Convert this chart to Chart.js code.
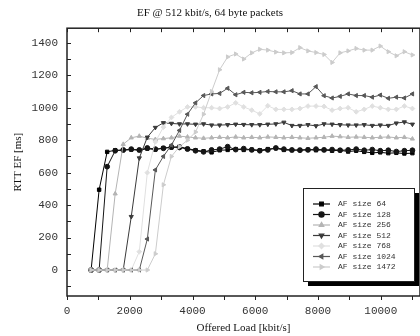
<!DOCTYPE html>
<html>
<head>
<meta charset="utf-8">
<script src="https://cdn.jsdelivr.net/npm/chart.js@4.4.1/dist/chart.umd.min.js"></script>
<style>
  html, body { margin: 0; padding: 0; background: #fff; }
</style>
</head>
<body>
<canvas id="rttChart" width="420" height="336"></canvas>
<script>
// Offered load [kbit/s]
const loads = [768, 1024, 1280, 1536, 1792, 2048, 2304, 2560, 2816, 3072,
  3328, 3584, 3840, 4096, 4352, 4608, 4864, 5120, 5376, 5632,
  5888, 6144, 6400, 6656, 6912, 7168, 7424, 7680, 7936, 8192,
  8448, 8704, 8960, 9216, 9472, 9728, 9984, 10240, 10496, 10752, 11008];

// RTT EF [ms] per AF packet size
const af64 = [0, 495, 728, 738, 738, 742, 738, 748, 742, 752,
  755, 760, 748, 738, 732, 725, 738, 740, 745, 740,
  742, 738, 745, 750, 740, 738, 740, 742, 738, 740,
  735, 738, 730, 735, 728, 722, 725, 720, 722, 718, 720];
const af128 = [0, 0, 637, 735, 740, 745, 740, 752, 745, 750,
  758, 755, 745, 735, 728, 740, 745, 760, 742, 748,
  740, 735, 740, 752, 745, 740, 738, 740, 745, 740,
  742, 738, 740, 745, 738, 742, 735, 738, 730, 735, 738];
const af256 = [0, 0, 0, 470, 775, 815, 825, 812, 805, 810,
  815, 825, 820, 815, 812, 815, 818, 815, 820, 815,
  818, 815, 820, 818, 815, 818, 815, 812, 815, 818,
  825, 822, 818, 820, 818, 815, 818, 820, 815, 818, 808];
const af512 = [0, 0, 0, 0, 0, 329, 690, 818, 878, 907,
  903, 900, 900, 898, 900, 893, 893, 895, 898, 896,
  895, 895, 898, 900, 910, 890, 890, 895, 888, 900,
  898, 895, 893, 893, 895, 890, 893, 890, 905, 912, 898];
const af768 = [0, 0, 0, 0, 0, 0, 113, 600, 790, 880,
  940, 975, 1005, 1005, 1000, 1000, 995, 1005, 1030, 1005,
  985, 962, 1012, 990, 990, 990, 995, 1010, 1010, 1008,
  985, 995, 1000, 975, 990, 1010, 1000, 990, 990, 1010, 995];
const af1024 = [0, 0, 0, 0, 0, 0, 0, 191, 617, 700,
  770, 860, 960, 1030, 1075, 1085, 1088, 1120, 1080, 1095,
  1092, 1095, 1100, 1098, 1098, 1105, 1085, 1085, 1130, 1074,
  1060, 1070, 1085, 1075, 1075, 1065, 1078, 1058, 1065, 1060, 1085];
const af1472 = [0, 0, 0, 0, 0, 0, 0, 0, 100, 525,
  700, 760, 800, 850, 960, 1100, 1234, 1313, 1331, 1300,
  1338, 1360, 1355, 1343, 1338, 1340, 1370, 1350, 1340, 1328,
  1279, 1338, 1350, 1365, 1355, 1355, 1380, 1345, 1320, 1345, 1325];

const xLabelTicks = [0, 2000, 4000, 6000, 8000, 10000];
const yLabelTicks = [0, 200, 400, 600, 800, 1000, 1200, 1400];

function pts(values) {
  return values.map((v, i) => ({ x: loads[i], y: v }));
}

const series = [
  { label: 'AF size 64',   data: af64,   color: '#000000', style: 'rect',     rot: 0 },
  { label: 'AF size 128',  data: af128,  color: '#151515', style: 'circle',   rot: 0 },
  { label: 'AF size 256',  data: af256,  color: '#b4b4b4', style: 'triangle', rot: 0 },
  { label: 'AF size 512',  data: af512,  color: '#3a3a3a', style: 'triangle', rot: 180 },
  { label: 'AF size 768',  data: af768,  color: '#e0e0e0', style: 'rectRot',  rot: 0 },
  { label: 'AF size 1024', data: af1024, color: '#585858', style: 'triangle', rot: 270 },
  { label: 'AF size 1472', data: af1472, color: '#cccccc', style: 'triangle', rot: 90 }
];

// plot runs off the right edge of the picture
const stretchPlugin = {
  id: 'stretch',
  afterLayout(chart) {
    const xs = chart.scales.x;
    chart.chartArea.right = chart.width;
    chart.chartArea.width = chart.width - chart.chartArea.left;
    xs.right = chart.width;
    xs.width = chart.width - xs.left;
    xs.configure();
  }
};

// frame + tick marks
const framePlugin = {
  id: 'frame',
  beforeDatasetsDraw(chart) {
    const ctx = chart.ctx;
    const a = chart.chartArea;
    const xs = chart.scales.x, ys = chart.scales.y;
    ctx.save();
    ctx.strokeStyle = '#222';
    ctx.lineWidth = 1.5;
    ctx.strokeRect(a.left, a.top, a.right - a.left, a.bottom - a.top);
    ctx.lineWidth = 1;
    ctx.beginPath();
    for (let v = 0; v <= 11000; v += 1000) {
      const px = Math.round(xs.getPixelForValue(v)) + 0.5;
      ctx.moveTo(px, a.top); ctx.lineTo(px, a.top + 4);
      ctx.moveTo(px, a.bottom); ctx.lineTo(px, a.bottom + 4);
    }
    for (let v = -100; v <= 1400; v += 100) {
      const py = Math.round(ys.getPixelForValue(v)) + 0.5;
      ctx.moveTo(a.left, py); ctx.lineTo(a.left + 4, py);
    }
    ctx.stroke();
    ctx.restore();
  }
};

// boxed legend with shadow inside the plot
const legendPlugin = {
  id: 'boxLegend',
  afterDraw(chart) {
    const ctx = chart.ctx;
    const bx = 303, by = 188, bw = 111, bh = 93;
    ctx.save();
    ctx.fillStyle = '#000';
    ctx.fillRect(bx + 5, by + 5, bw, bh);
    ctx.fillStyle = '#fff';
    ctx.fillRect(bx, by, bw, bh);
    ctx.strokeStyle = '#222';
    ctx.lineWidth = 1;
    ctx.strokeRect(bx + 0.5, by + 0.5, bw, bh);
    ctx.font = '8px "Liberation Mono"';
    ctx.textBaseline = 'middle';
    series.forEach((s, i) => {
      const y = by + 16 + i * 10.5;
      ctx.strokeStyle = s.color;
      ctx.lineWidth = 1.2;
      ctx.beginPath();
      ctx.moveTo(bx + 10, y); ctx.lineTo(bx + 27, y);
      ctx.stroke();
      ctx.fillStyle = s.color;
      Chart.helpers.drawPoint(ctx, { pointStyle: s.style, rotation: s.rot, radius: 2.6, borderWidth: 1 }, bx + 18.5, y);
      ctx.fillStyle = '#333';
      ctx.fillText(s.label, bx + 35, y);
    });
    ctx.restore();
  }
};

new Chart(document.getElementById('rttChart'), {
  type: 'line',
  data: {
    datasets: series.map((s, i) => ({
      label: s.label,
      data: pts(s.data),
      borderColor: s.color,
      backgroundColor: s.color,
      borderWidth: 1,
      pointStyle: s.style,
      pointRotation: s.rot,
      pointRadius: 2.4,
      pointBorderWidth: 1,
      tension: 0,
      order: series.length - i
    }))
  },
  options: {
    responsive: false,
    animation: false,
    layout: { padding: 0 },
    plugins: {
      legend: { display: false },
      tooltip: { enabled: false },
      title: {
        display: true,
        text: 'EF @ 512 kbit/s, 64 byte packets',
        color: '#111',
        font: { family: 'Liberation Serif', size: 11, weight: 'normal' },
        padding: { top: 7, bottom: 8 }
      }
    },
    scales: {
      x: {
        type: 'linear',
        min: 0,
        max: 11250,
        afterBuildTicks: s => { s.ticks = xLabelTicks.map(v => ({ value: v })); },
        afterFit: s => { s.height = 40; },
        grid: { display: false, drawTicks: false, tickLength: 0 },
        border: { display: false },
        ticks: {
          color: '#333',
          padding: 8,
          maxRotation: 0,
          font: { family: 'Liberation Mono', size: 11 },
          callback: v => String(v)
        },
        title: {
          display: true,
          text: 'Offered Load [kbit/s]',
          color: '#111',
          font: { family: 'Liberation Serif', size: 11 },
          padding: { top: 0, bottom: 1 }
        }
      },
      y: {
        min: -160,
        max: 1490,
        afterBuildTicks: s => { s.ticks = yLabelTicks.map(v => ({ value: v })); },
        afterFit: s => { s.width = 67; },
        grid: { display: false, drawTicks: false, tickLength: 0 },
        border: { display: false },
        ticks: {
          color: '#333',
          padding: 9,
          font: { family: 'Liberation Mono', size: 11 },
          callback: v => String(v)
        },
        title: {
          display: true,
          text: 'RTT EF [ms]',
          color: '#111',
          font: { family: 'Liberation Serif', size: 11 },
          padding: { top: 12, bottom: 0 }
        }
      }
    }
  },
  plugins: [stretchPlugin, framePlugin, legendPlugin]
});
</script>
</body>
</html>
